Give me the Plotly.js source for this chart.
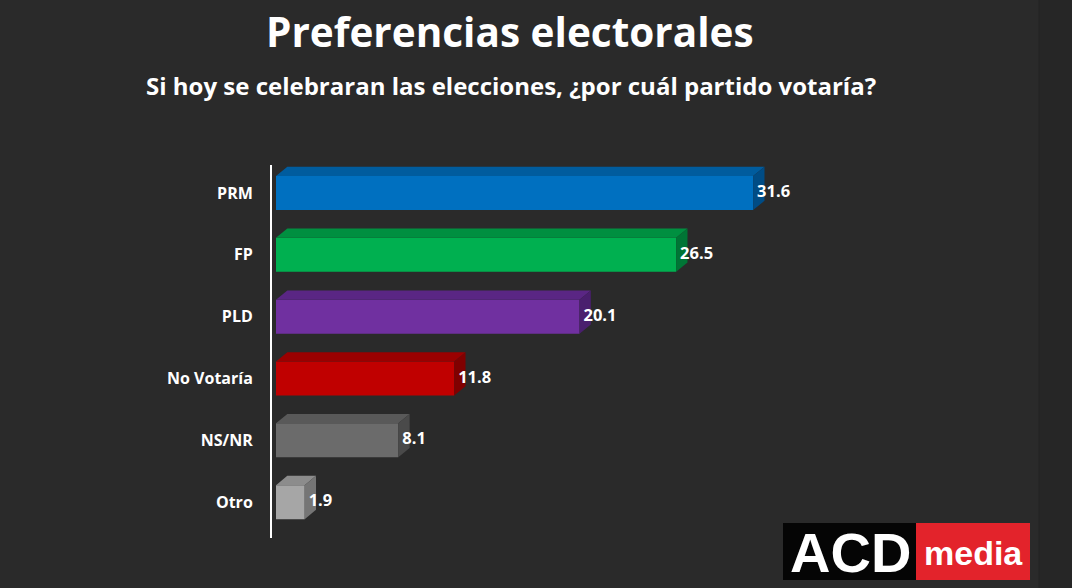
<!DOCTYPE html>
<html><head><meta charset="utf-8">
<script src="https://cdn.plot.ly/plotly-3.0.1.min.js"></script>
<style>html,body{margin:0;padding:0;background:#2a2a2a;}#chart{width:1072px;height:588px;}</style>
</head><body><div id="chart"></div>
<script>
const categories = ["PRM", "FP", "PLD", "No Votaría", "NS/NR", "Otro"];
const values = [31.6, 26.5, 20.1, 11.8, 8.1, 1.9];
const valueLabels = ["31.6", "26.5", "20.1", "11.8", "8.1", "1.9"];
const frontColors = ["#0070C0", "#00B050", "#7030A0", "#C00000", "#6B6B6B", "#A6A6A6"];
const topColors = ["#005C9E", "#008F40", "#5A2684", "#9A0000", "#595959", "#8C8C8C"];
const sideColors = ["#004C85", "#007535", "#4A1F6E", "#800000", "#4A4A4A", "#757575"];

const FONT = 'Open Sans, Liberation Sans, Arial, sans-serif';
const W = 0.55, DX = 0.75, DY = 0.15;
const pos = categories.map((c, i) => i);
const traces = [];
traces.push({type: 'bar', orientation: 'h', x: values, y: pos, width: W,
  marker: {color: frontColors, line: {width: 0}}, hoverinfo: 'skip'});
values.forEach((v, i) => {
  const t = i - W / 2, b = i + W / 2;
  traces.push({type: 'scatter', mode: 'lines', fill: 'toself', fillcolor: topColors[i],
    line: {width: 0, color: topColors[i]}, hoverinfo: 'skip',
    x: [0, DX, v + DX, v, 0], y: [t, t - DY, t - DY, t, t]});
  traces.push({type: 'scatter', mode: 'lines', fill: 'toself', fillcolor: sideColors[i],
    line: {width: 0, color: sideColors[i]}, hoverinfo: 'skip',
    x: [v, v + DX, v + DX, v, v], y: [t, t - DY, b - DY, b, t]});
});
traces.push({type: 'scatter', mode: 'text', x: values.map(v => v + DX * 0.35), y: pos,
  text: valueLabels, textposition: 'middle right', hoverinfo: 'skip',
  textfont: {family: FONT, size: 16.5, color: '#FFFFFF', weight: 'bold'},
  cliponaxis: false});

const L = 272, R = 1031, T = 165, B = 538;
const px = x => (x - L) / (R - L);
const py = y => (B - y) / (B - T);

const layout = {
  width: 1072, height: 588, showlegend: false,
  paper_bgcolor: '#2a2a2a', plot_bgcolor: 'rgba(0,0,0,0)',
  margin: {l: L, r: 1072 - R, t: T, b: 588 - B, pad: 0},
  font: {family: FONT, color: '#FFFFFF'},
  barmode: 'overlay',
  xaxis: {range: [-0.265, 50.0], showgrid: false, zeroline: false, showline: false,
    showticklabels: false, ticks: '', fixedrange: true},
  yaxis: {range: [5.58, -0.453], tickvals: pos, ticktext: categories, showgrid: false,
    zeroline: false, showline: true, linecolor: '#FFFFFF', linewidth: 2, ticks: '',
    ticklabelstandoff: 14, tickfont: {family: FONT, size: 16, color: '#FFFFFF', weight: 'bold'}, fixedrange: true},
  shapes: [
    {type: 'rect', xref: 'paper', yref: 'paper', x0: px(1039), x1: px(1072), y0: py(0), y1: py(588),
      fillcolor: '#262626', line: {width: 0}, layer: 'below'},
    {type: 'line', xref: 'paper', yref: 'paper', x0: px(1039), x1: px(1039), y0: py(0), y1: py(588),
      line: {color: '#222222', width: 1}, layer: 'below'},
    {type: 'rect', xref: 'paper', yref: 'paper', x0: px(783), x1: px(1030), y0: py(580), y1: py(523),
      fillcolor: '#050505', line: {width: 0}},
    {type: 'rect', xref: 'paper', yref: 'paper', x0: px(916), x1: px(1030), y0: py(580), y1: py(523),
      fillcolor: '#E3232B', line: {width: 0}}
  ],
  annotations: [
    {text: 'Preferencias electorales', xref: 'paper', yref: 'paper', x: px(510), y: py(31),
      xanchor: 'center', yanchor: 'middle', showarrow: false,
      font: {family: FONT, size: 40.5, color: '#FFFFFF', weight: 'bold'}},
    {text: 'Si hoy se celebraran las elecciones, ¿por cuál partido votaría?', xref: 'paper', yref: 'paper',
      x: px(511), y: py(85), xanchor: 'center', yanchor: 'middle', showarrow: false,
      font: {family: FONT, size: 24, color: '#FFFFFF', weight: 'bold'}},
    {text: 'ACD', xref: 'paper', yref: 'paper', x: px(850), y: py(552), xanchor: 'center', yanchor: 'middle',
      showarrow: false, font: {family: 'Liberation Sans, Arial, sans-serif', size: 56, color: '#FFFFFF', weight: 'bold'}},
    {text: 'media', xref: 'paper', yref: 'paper', x: px(973), y: py(553), xanchor: 'center', yanchor: 'middle',
      showarrow: false, font: {family: 'Liberation Sans, Arial, sans-serif', size: 34, color: '#FFFFFF', weight: 'bold'}}
  ]
};
Plotly.newPlot('chart', traces, layout, {displayModeBar: false, staticPlot: true});
</script></body></html>
